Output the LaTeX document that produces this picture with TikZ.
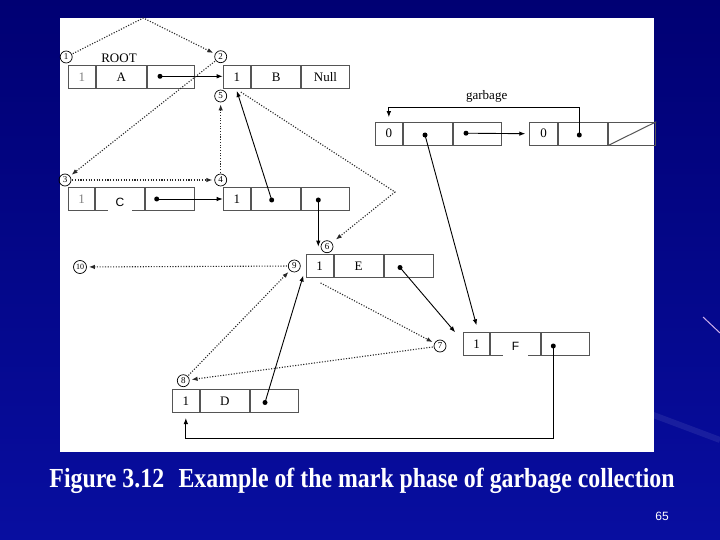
\documentclass[tikz,border=0pt]{standalone}
\usepackage{graphicx}
\usepackage{fontspec}
\setmainfont{Liberation Serif}
\newfontfamily\arialf{Liberation Sans}
\usetikzlibrary{arrows.meta}
\definecolor{boxgray}{RGB}{85,85,85}
\definecolor{dotgray}{RGB}{40,40,40}
\definecolor{navtop}{RGB}{0,0,115}
\definecolor{navbot}{RGB}{8,14,160}
\definecolor{streak}{RGB}{205,175,235}
\tikzset{
  cell/.style={draw=boxgray, line width=1pt, minimum height=23pt, inner sep=0pt,
    font=\fontsize{13}{13}\selectfont, text=black},
  cnum/.style={draw=black, circle, line width=0.7pt, minimum size=12pt, inner sep=0pt,
    font=\fontsize{9}{9}\selectfont},
  dot/.style={circle, fill=black, inner sep=0pt, minimum size=5pt},
  ptr/.style={draw=black, line width=0.9pt, -{Latex[length=6pt,width=4.5pt]}},
  trav/.style={draw=dotgray, line width=1.1pt, dash pattern=on 1.1pt off 1.6pt,
    -{Latex[length=6pt,width=4.5pt]}, shorten >=2pt, shorten <=1pt},
  sanslab/.style={fill=white, inner sep=0pt, minimum height=19pt,
    font=\arialf\fontsize{12}{12}\selectfont},
  lab/.style={font=\fontsize{13}{13}\selectfont},
}
\newcommand{\mkrec}[9]{%
  \node[cell, minimum width=#4pt, anchor=north west] (#1a) at (#2,#3) {#7};
  \node[cell, minimum width=#5pt, anchor=west] (#1b) at (#1a.east) {#8};
  \node[cell, minimum width=#6pt, anchor=west] (#1c) at (#1b.east) {#9};}
\begin{document}
\begin{tikzpicture}[x=1pt,y=-1pt]
\useasboundingbox (0,0) rectangle (720,540);
% slide background
\shade[top color=navtop, bottom color=navbot] (0,0) rectangle (720,540);
\draw[white, opacity=0.08, line width=6pt] (600,395) -- (720,440);
\draw[streak, line width=1pt] (703,317) -- (720,333);
\fill[white] (60,18) rectangle (654,452);

% records
\mkrec{A}{67.7}{65}{27.3}{49.5}{47.8}{\color{gray}1}{A}{}
\mkrec{B}{222.7}{65}{27.3}{49.3}{47.4}{1}{B}{Null}
\mkrec{C}{67.7}{187.5}{26.6}{49}{49}{\color{gray}1}{}{}
\mkrec{H}{222.7}{187.5}{27.3}{49.3}{47.4}{1}{}{}
\mkrec{E}{305.7}{254}{27}{49}{49}{1}{E}{}
\mkrec{D}{171.7}{389}{27.3}{48.7}{48}{1}{D}{}
\mkrec{F}{462.7}{332.3}{26.6}{49.4}{48.6}{1}{}{}
\mkrec{P}{375}{121.7}{26.7}{49.3}{48.3}{0}{}{}
\mkrec{Q}{529.3}{121.7}{27.4}{49}{47.6}{0}{}{}
\draw[boxgray, line width=1pt] (Qc.south west) -- (Qc.north east);

% sans labels pasted over the cells
\node[sanslab, minimum width=23.7pt] (Clab) at (119.9,202.5) {C};
\node[sanslab, minimum width=25pt] (Flab) at (515.5,346.5) {F};

% texts
\node[lab] (root) at (119,58) {ROOT};
\node[lab] (garb) at (486.7,96) {garbage};

% dots
\node[dot] (Adot) at (160,76.3) {};
\node[dot] (Cdot) at (156.7,199) {};
\node[dot] (Hdot1) at (271.7,200) {};
\node[dot] (Hdot2) at (318.3,200) {};
\node[dot] (Edot) at (400,267.5) {};
\node[dot] (Ddot) at (265,402.5) {};
\node[dot] (Fdot) at (553.3,346) {};
\node[dot] (Pdot1) at (425,135) {};
\node[dot] (Pdot2) at (466,133.2) {};
\node[dot] (Qdot) at (579.3,135) {};

% circled numbers
\node[cnum] (c1) at (66.2,57) {1};
\node[cnum] (c2) at (220.7,56.7) {2};
\node[cnum] (c3) at (65,180) {3};
\node[cnum] (c4) at (220.7,180) {4};
\node[cnum] (c5) at (220.7,96) {5};
\node[cnum] (c6) at (327,246.7) {6};
\node[cnum] (c7) at (440,346) {7};
\node[cnum] (c8) at (183.3,380.7) {8};
\node[cnum] (c9) at (294.3,266) {9};
\node[cnum, minimum size=13pt, font=\fontsize{8}{8}\selectfont] (c10) at (80,267) {10};

% pointers
\draw[ptr] (Adot.center) -- (Adot.center -| Ba.west);
\draw[ptr] (Cdot.center) -- (Cdot.center -| Ha.west);
\draw[ptr] (Hdot1.center) -- ([yshift=-2pt]Ba.south);
\draw[ptr] (Hdot2.center) -- (Hdot2.center |- c6.center);
\draw[ptr] (Edot.center) -- ([xshift=-7.5pt]Fa.north west);
\draw[ptr] (Pdot1.center) -- ([yshift=7pt]Fa.north);
\draw[ptr] (Pdot2.center) -- ([xshift=-4pt]Qa.west);
\draw[ptr] (Qdot.center) -- ++(0,-27.3) -| ([yshift=4.5pt]Pa.north);
\draw[ptr] (Fdot.center) |- ([yshift=-25pt]Da.south) -- ([yshift=-5pt]Da.south);
\draw[ptr] (Ddot.center) -- ([xshift=-2.4pt,yshift=2.5pt]Ea.south west);

% marking traversal
\coordinate (top1) at (143.3,18);
\coordinate (s5) at (240,91.5);
\coordinate (apex) at (395,192);
\draw[trav] (c1) -- (top1) -- (c2);
\draw[trav] (c2) -- (c3);
\draw[trav] (c3) -- (c4);
\draw[trav] (c4) -- (c5);
\draw[trav, shorten >=5pt] (s5) -- (apex) -- (c6);
\draw[trav] ([yshift=-4.5pt]Ea.south) -- (c7);
\draw[trav] (c7) -- (c8);
\draw[trav] (c8) -- (c9);
\draw[trav] (c9) -- (c10);

% caption and page number
\node[text=white, anchor=base, inner sep=0pt] (cap) at (362,487)
  {\resizebox{625pt}{19.4pt}{\bfseries Figure 3.12\hspace{0.6em}Example of the mark phase of garbage collection}};
\node[text=white, font=\arialf\fontsize{12}{12}\selectfont] (pg) at (662,516) {65};
\end{tikzpicture}
\end{document}
